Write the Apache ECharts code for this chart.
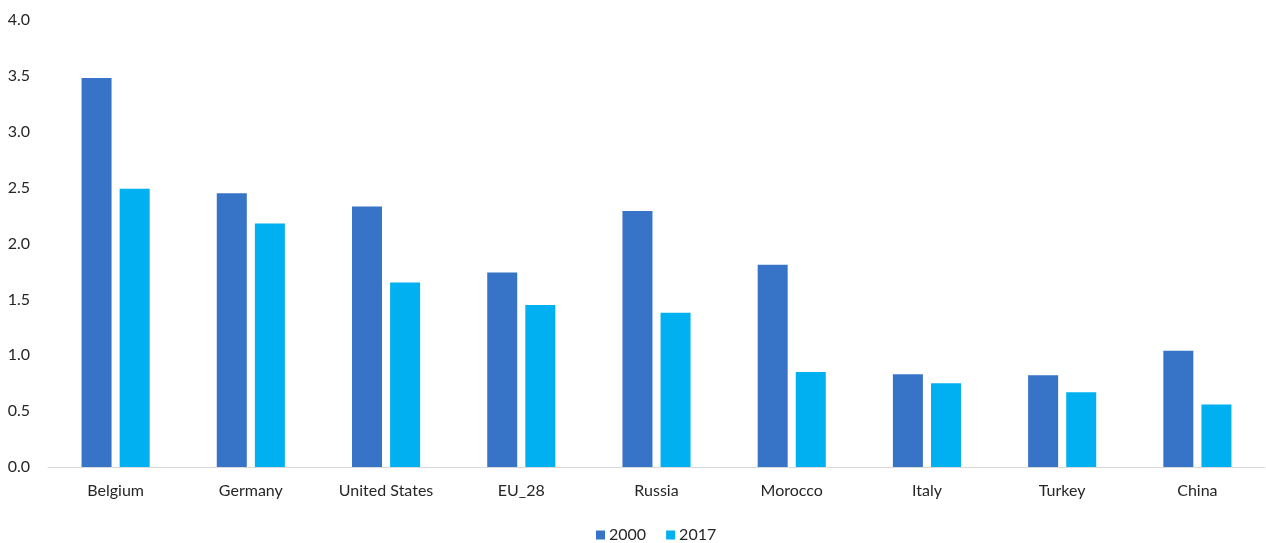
<!DOCTYPE html>
<html>
<head>
<meta charset="utf-8">
<script src="https://cdn.jsdelivr.net/npm/echarts@6/dist/echarts.min.js"></script>
<style>html,body{margin:0;padding:0;background:#fff;}#c{width:1266px;height:543px;}</style>
</head>
<body>
<div id="c"></div>
<script>
const categories = ['Belgium', 'Germany', 'United States', 'EU_28', 'Russia', 'Morocco', 'Italy', 'Turkey', 'China'];
const values2000 = [3.48, 2.45, 2.33, 1.74, 2.29, 1.81, 0.83, 0.82, 1.04];
const values2017 = [2.49, 2.18, 1.65, 1.45, 1.38, 0.85, 0.75, 0.67, 0.56];
const seriesNames = ['2000', '2017'];

const font = 'Lato, "Open Sans", sans-serif';
const chart = echarts.init(document.getElementById('c'), null, {renderer: 'canvas'});
chart.setOption({
  animation: false,
  backgroundColor: '#ffffff',
  grid: {left: 48, right: 1, top: 20, bottom: 76, containLabel: false},
  legend: {
    data: seriesNames,
    top: 522,
    left: 591,
    itemWidth: 9,
    itemHeight: 9,
    itemGap: 20,
    icon: 'rect',
    textStyle: {fontFamily: font, fontSize: 16, color: '#262626', padding: [0, 0, 0, -1]}
  },
  xAxis: {
    type: 'category',
    data: categories,
    axisLine: {lineStyle: {color: '#d9d9d9', width: 1}},
    axisTick: {show: false},
    axisLabel: {fontFamily: font, fontSize: 16, color: '#262626', margin: 16}
  },
  yAxis: {
    type: 'value',
    min: 0, max: 4, interval: 0.5,
    splitLine: {show: false},
    axisLine: {show: false},
    axisTick: {show: false},
    axisLabel: {fontFamily: font, fontSize: 16, color: '#262626', margin: 18,
      formatter: v => v.toFixed(1)}
  },
  series: [
    {name: seriesNames[0], type: 'bar', data: values2000, barWidth: 30, barGap: '27%',
     itemStyle: {color: '#3773C6'}},
    {name: seriesNames[1], type: 'bar', data: values2017, barWidth: 30,
     itemStyle: {color: '#00B0F0'}}
  ]
});
</script>
</body>
</html>
